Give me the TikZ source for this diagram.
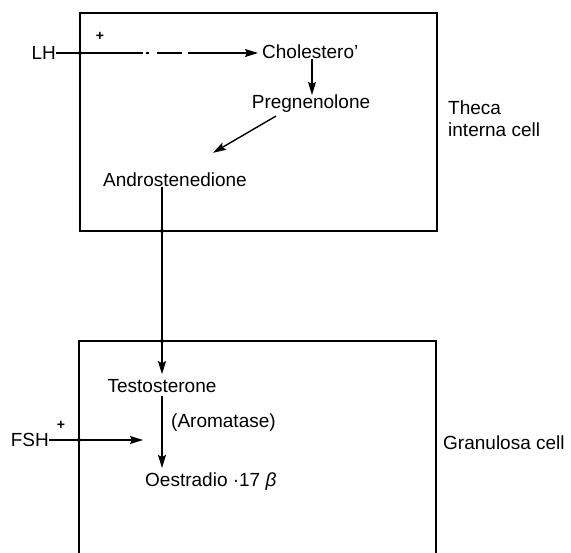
\documentclass[tikz,border=0pt]{standalone}
\usepackage{fontspec}
\setmainfont{Liberation Sans}
\usetikzlibrary{arrows.meta}
\begin{document}
\begin{tikzpicture}[x=1pt,y=-1pt,
  lbl/.style={inner sep=0pt,font=\fontsize{19}{22}\selectfont},
  pluslbl/.style={inner sep=0pt,font=\fontsize{14}{14}\selectfont\bfseries},
  cellbox/.style={line width=2.2pt},
  conn/.style={line width=1.4pt},
  arr/.style={conn,-{Stealth[length=13pt,width=8pt,inset=2pt]}},
  junction/.style={circle,fill=black,inner sep=0pt,minimum size=4pt}]
\useasboundingbox (0,0) rectangle (571,553);
% boxes
\draw[cellbox] (80,13) rectangle (437,231);
\draw[cellbox] (79,553) -- (79,341) -- (436,341) -- (436,553);
% theca texts
\node[lbl,anchor=west] (chol) at (262,52) {Cholestero\symbol{39}};
\node[lbl] (preg) at (311,104) {Pregnenolone};
\node[lbl] (andro) at (175,180) {Androstenedione};
\node[lbl,anchor=east] (lh) at (56,53) {LH};
\node[pluslbl] (lhplus) at (100,36) {+};
\node[lbl,anchor=west,align=left] (theca) at (448,119) {Theca\\interna cell};
% granulosa texts
\node[lbl] (testo) at (162,386) {Testosterone};
\node[lbl,anchor=west] (arom) at (171,423) {(Aromatase)};
\node[lbl,anchor=west] (oest) at (145,482) {Oestradio ·17 \textit{β}};
\node[lbl,anchor=east] (fsh) at (49,440) {FSH};
\node[pluslbl] (fshplus) at (61,425) {+};
\node[lbl,anchor=west] (gran) at (443,443) {Granulosa cell};
% coordinates
\coordinate (lhmid) at (143,53);
\coordinate (lhdot) at (146,53);
\coordinate (lhdash) at (157,53);
\coordinate (lhsolid) at (188,53);
\coordinate (lhend) at ([xshift=-4pt]chol.west |- lh.east);
\coordinate (fshend) at (143,440);
\coordinate (tophit) at (testo.north |- 0,231);
\coordinate (bothit) at (testo.north |- 0,341);
% connectors
\draw[conn] (lh.east) -- (lhmid);
\draw[conn] (lhdot) -- ++(3,0);
\draw[conn] (lhdash) -- ++(25,0);
\draw[arr] (lhsolid) -- (lhend);
\draw[arr] (chol.south -| 312,0) -- (preg.north -| 312,0);
\draw[arr] ([xshift=-35pt,yshift=-3pt]preg.south) -- ([xshift=38pt,yshift=20pt]andro.north);
\draw[arr] (andro.south -| testo.north) -- ([yshift=5pt]testo.north);
\draw[arr] ([yshift=-3pt]testo.south) -- ([yshift=5pt]testo.south |- oest.north);
\draw[arr] (fsh.east) -- (fshend);
% junction dots
\node[junction] (j1) at (80,53) {};
\node[junction] (j2) at (tophit) {};
\node[junction] (j3) at (bothit) {};
\node[junction] (j4) at (79,440) {};
\end{tikzpicture}
\end{document}
